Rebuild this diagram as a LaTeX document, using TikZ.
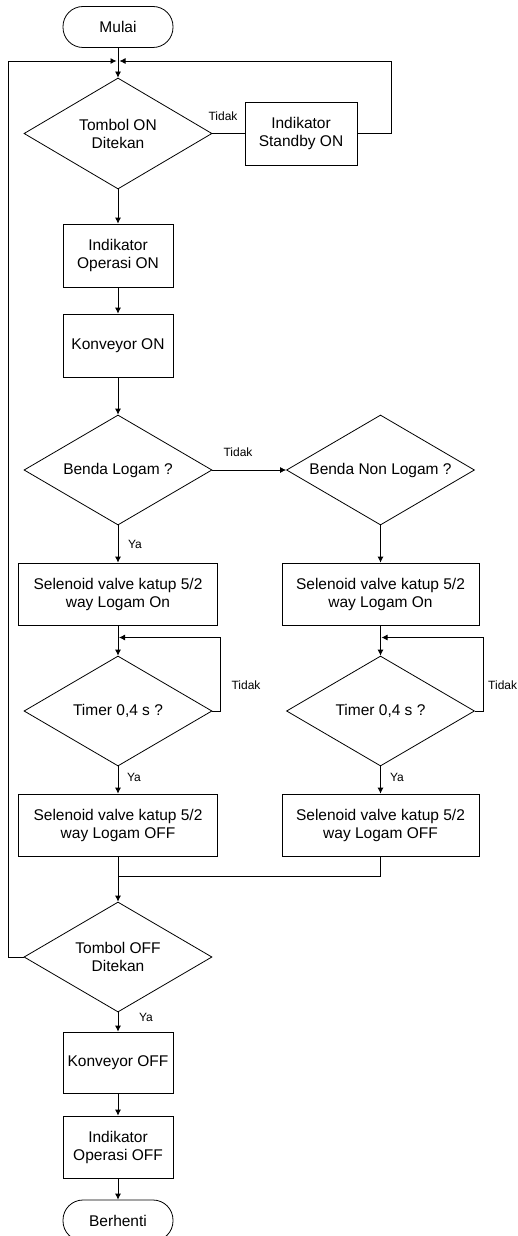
\documentclass[tikz,border=0pt]{standalone}
\usepackage{fontspec}
\setmainfont{Liberation Sans}
\usetikzlibrary{shapes.geometric,arrows.meta}
\tikzset{
  base/.style={draw, line width=0.8pt, inner sep=0pt, align=center, font=\fontsize{15.5}{18}\selectfont},
  box/.style={base, rectangle},
  dec/.style={base, diamond, aspect=1.71, minimum width=188pt, minimum height=110pt},
  term/.style={base, rectangle, rounded corners=20pt, minimum width=110pt, minimum height=41pt},
  lbl/.style={font=\fontsize{12}{14}\selectfont, inner sep=0pt},
  line/.style={line width=0.8pt},
  arr/.style={line width=0.8pt, -{Latex[length=6pt,width=6pt]}}
}
\begin{document}
\begin{tikzpicture}[x=1pt,y=-1pt]
\useasboundingbox (0,0) rectangle (517,1236);
% nodes
\node[term] (mulai) at (118,27) {Mulai};
\coordinate (m1) at (118,61);
\node[dec, minimum height=111pt] (t1) at (118,133.5) {Tombol ON\\Ditekan};
\node[box, minimum width=112pt, minimum height=63pt] (sb) at (301,133.5) {Indikator\\Standby ON};
\coordinate (r1) at (391,133.5);
\coordinate (r2) at (391,61);
\node[box, minimum width=110pt, minimum height=63pt] (io) at (118,255.5) {Indikator\\Operasi ON};
\node[box, minimum width=110pt, minimum height=63pt] (kon) at (118,345.5) {Konveyor ON};
\node[dec] (bl) at (118,470) {Benda Logam ?};
\node[dec] (bnl) at (380.5,470) {Benda Non Logam ?};
\node[box, minimum width=199pt, minimum height=62pt] (sl1) at (118,594) {Selenoid valve katup 5/2\\way Logam On};
\node[box, minimum width=197pt, minimum height=62pt] (sr1) at (380.5,594) {Selenoid valve katup 5/2\\way Logam On};
\coordinate (ml) at (118,637.5);
\coordinate (mr) at (380.5,637.5);
\node[dec] (tl) at (118,711) {Timer 0,4 s ?};
\node[dec] (tr) at (380.5,711) {Timer 0,4 s ?};
\coordinate (la) at (220,711);
\coordinate (lb) at (220,637.5);
\coordinate (ra) at (483,711);
\coordinate (rb) at (483,637.5);
\node[box, minimum width=199pt, minimum height=62pt] (sl2) at (118,825) {Selenoid valve katup 5/2\\way Logam OFF};
\node[box, minimum width=197pt, minimum height=62pt] (sr2) at (380.5,825) {Selenoid valve katup 5/2\\way Logam OFF};
\coordinate (jl) at (118,876);
\coordinate (jr) at (380.5,876);
\node[dec] (toff) at (118,957) {Tombol OFF\\Ditekan};
\coordinate (o1) at (8,957);
\coordinate (o2) at (8,61);
\node[box, minimum width=110pt, minimum height=61pt] (koff) at (118,1062.5) {Konveyor OFF};
\node[box, minimum width=110pt, minimum height=62pt] (ioff) at (118,1147) {Indikator\\Operasi OFF};
\node[term] (end) at (118,1220.5) {Berhenti};
% labels
\node[lbl] (lt1) at (223,116) {Tidak};
\node[lbl] (lt2) at (238,452) {Tidak};
\node[lbl] (ly1) at (135,544) {Ya};
\node[lbl] (lt3) at (246,685) {Tidak};
\node[lbl, anchor=west] (lt4) at (488,685) {Tidak};
\node[lbl] (ly2) at (134,777) {Ya};
\node[lbl] (ly3) at (397,777) {Ya};
\node[lbl] (ly4) at (146,1017) {Ya};
% connectors
\draw[line] (mulai.south) -- (m1);
\draw[arr] (m1) -- (t1.north);
\draw[line] (t1.east) -- (sb.west);
\draw[arr] (sb.east) -- (r1) -- (r2) -- ([xshift=1.5pt]m1);
\draw[arr] (toff.west) -- (o1) -- (o2) -- ([xshift=-1.5pt]m1);
\draw[arr] (t1.south) -- (io.north);
\draw[arr] (io.south) -- (kon.north);
\draw[arr] (kon.south) -- (bl.north);
\draw[arr] (bl.east) -- (bnl.west);
\draw[arr] (bl.south) -- (sl1.north);
\draw[arr] (bnl.south) -- (sr1.north);
\draw[arr] (sl1.south) -- (tl.north);
\draw[arr] (sr1.south) -- (tr.north);
\draw[arr] (tl.east) -- (la) -- (lb) -- ([xshift=1pt]ml);
\draw[arr] (tr.east) -- (ra) -- (rb) -- ([xshift=1pt]mr);
\draw[arr] (tl.south) -- (sl2.north);
\draw[arr] (tr.south) -- (sr2.north);
\draw[line] (sl2.south) -- (jl);
\draw[line] (sr2.south) -- (jr) -- (jl);
\draw[arr] (jl) -- (toff.north);
\draw[arr] (toff.south) -- (koff.north);
\draw[arr] (koff.south) -- (ioff.north);
\draw[arr] (ioff.south) -- (end.north);
\end{tikzpicture}
\end{document}
